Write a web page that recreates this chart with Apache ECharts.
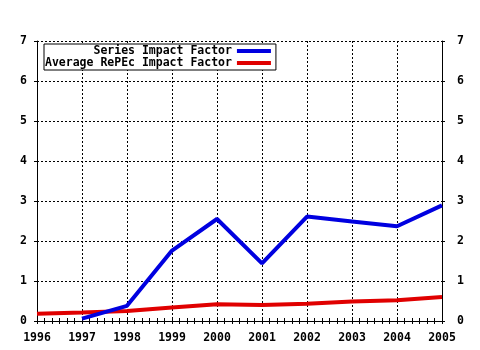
<!DOCTYPE html>
<html>
<head>
<meta charset="utf-8">
<script src="https://cdn.jsdelivr.net/npm/echarts@6/dist/echarts.min.js"></script>
<style>html,body{margin:0;padding:0;background:#fff}#c{width:480px;height:350px}</style>
</head>
<body>
<div id="c"></div>
<script>
const years = [1996, 1997, 1998, 1999, 2000, 2001, 2002, 2003, 2004, 2005];
const seriesYears = [1997, 1998, 1999, 2000, 2001, 2002, 2003, 2004, 2005];
const seriesImpact = [0.06, 0.38, 1.76, 2.55, 1.44, 2.61, 2.49, 2.37, 2.89];
const repecImpact = [0.18, 0.21, 0.25, 0.34, 0.42, 0.40, 0.43, 0.49, 0.52, 0.60];
const yTicks = [0, 1, 2, 3, 4, 5, 6, 7];
const seriesNames = ['Series Impact Factor', 'Average RePEc Impact Factor'];

const font = {fontFamily: 'DejaVu Sans Mono', fontWeight: 'bold', fontSize: 11.5, color: '#000'};
const grid = {type: [2, 2], color: '#000', width: 1};

const chart = echarts.init(document.getElementById('c'), null, {renderer: 'canvas'});
chart.setOption({
  animation: false,
  backgroundColor: '#fff',
  grid: {left: 37, right: 38, top: 41, bottom: 29},
  legend: {
    left: 44, top: 44, orient: 'vertical', align: 'right',
    itemWidth: 34, itemHeight: 4, itemGap: 0, padding: [1, 5, 1, 1],
    borderColor: '#000', borderWidth: 1, backgroundColor: '#fff',
    icon: 'rect',
    textStyle: Object.assign({lineHeight: 12}, font),
    data: seriesNames
  },
  xAxis: [{
    type: 'value', position: 'bottom', min: years[0], max: years[years.length - 1], interval: 1,
    axisLine: {lineStyle: {color: '#000', width: 1}},
    axisTick: {inside: true, length: 3, lineStyle: {color: '#000'}},
    minorTick: {show: true, splitNumber: 6, length: 3, lineStyle: {color: '#000'}},
    splitLine: {show: true, lineStyle: grid},
    axisLabel: Object.assign({margin: 11, formatter: v => String(v)}, font)
  }, {
    type: 'value', position: 'top', min: years[0], max: years[years.length - 1], interval: 1,
    axisLine: {lineStyle: {color: '#000', width: 1}},
    axisTick: {inside: true, length: 3, lineStyle: {color: '#000'}},
    minorTick: {show: true, splitNumber: 6, length: 3, lineStyle: {color: '#000'}},
    splitLine: {show: false},
    axisLabel: {show: false}
  }],
  yAxis: [{
    type: 'value', position: 'left', min: yTicks[0], max: yTicks[yTicks.length - 1], interval: 1,
    axisLine: {show: true, lineStyle: {color: '#000', width: 1}},
    axisTick: {show: true, length: 3, lineStyle: {color: '#000'}},
    splitLine: {show: true, lineStyle: grid},
    axisLabel: Object.assign({margin: 10}, font)
  }, {
    type: 'value', position: 'right', min: yTicks[0], max: yTicks[yTicks.length - 1], interval: 1,
    axisLine: {show: true, lineStyle: {color: '#000', width: 1}},
    axisTick: {show: true, length: 3, lineStyle: {color: '#000'}},
    splitLine: {show: false},
    axisLabel: Object.assign({margin: 15}, font)
  }],
  series: [{
    name: seriesNames[0], type: 'line', showSymbol: false, symbol: 'none',
    color: '#0000e0', lineStyle: {width: 4, color: '#0000e0'},
    data: seriesYears.map((y, i) => [y, seriesImpact[i]]), z: 3
  }, {
    name: seriesNames[1], type: 'line', showSymbol: false, symbol: 'none',
    color: '#e00000', lineStyle: {width: 4, color: '#e00000'},
    data: years.map((y, i) => [y, repecImpact[i]]), z: 2
  }]
});
</script>
</body>
</html>
